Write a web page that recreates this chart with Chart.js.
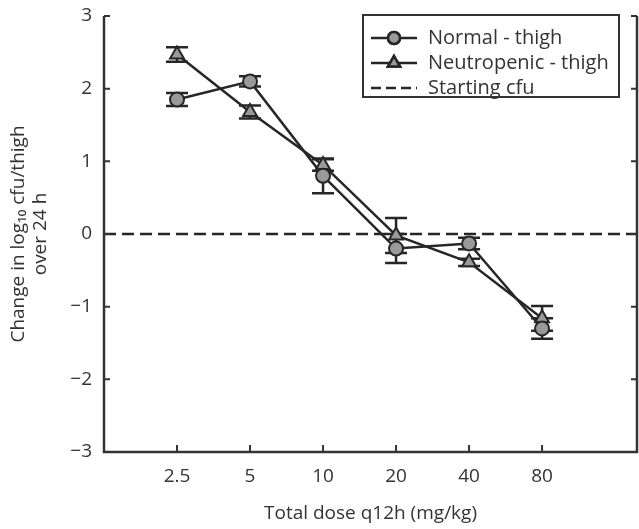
<!DOCTYPE html>
<html>
<head>
<meta charset="utf-8">
<script src="https://cdn.jsdelivr.net/npm/chart.js@4.4.1/dist/chart.umd.min.js"></script>
<style>
  html, body { margin: 0; padding: 0; background: #fff; overflow: hidden; }
  #wrap { width: 639px; height: 529px; }
</style>
</head>
<body>
<div id="wrap"><canvas id="chart"></canvas></div>
<script>
// --- data ---
const doseLabels = ['2.5', '5', '10', '20', '40', '80'];
const normalVals = [1.85, 2.10, 0.80, -0.20, -0.13, -1.30];
const normalErr  = [0.09, 0.07, 0.24, 0.20, 0.08, 0.14];
const neutroVals = [2.47, 1.68, 0.95, -0.02, -0.39, -1.16];
const neutroErr  = [0.10, 0.09, 0.08, 0.24, 0.05, 0.17];
const startCfu   = 0;
const yTicks     = [-3, -2, -1, 0, 1, 2, 3];

const INK = '#262626';
const MARK = '#9a9a9a';
const FONT = '"Open Sans", "Noto Sans", sans-serif';

function pts(vals) {
    return vals.map((v, i) => ({ x: i, y: v }));
}

// error bars, drawn under the markers
const errorBars = {
    id: 'errorBars',
    beforeDatasetsDraw(chart) {
        const { ctx, scales: { x, y } } = chart;
        const sets = [[normalVals, normalErr], [neutroVals, neutroErr]];
        ctx.save();
        ctx.strokeStyle = INK;
        ctx.lineWidth = 2.5;
        sets.forEach(([vals, errs]) => {
            vals.forEach((v, i) => {
                const px = x.getPixelForValue(i);
                const top = y.getPixelForValue(v + errs[i]);
                const bot = y.getPixelForValue(v - errs[i]);
                ctx.beginPath();
                ctx.moveTo(px, top); ctx.lineTo(px, bot);
                ctx.moveTo(px - 11, top); ctx.lineTo(px + 11, top);
                ctx.moveTo(px - 11, bot); ctx.lineTo(px + 11, bot);
                ctx.stroke();
            });
        });
        ctx.restore();
    }
};

// axis frame (left, bottom, right) with inward ticks
const frame = {
    id: 'frame',
    afterDraw(chart) {
        const { ctx, chartArea: a, scales: { x, y } } = chart;
        ctx.save();
        ctx.strokeStyle = '#333';
        ctx.lineWidth = 2.5;
        ctx.beginPath();
        ctx.moveTo(a.left, a.top); ctx.lineTo(a.left, a.bottom);
        ctx.lineTo(a.right, a.bottom); ctx.lineTo(a.right, a.top);
        ctx.stroke();
        ctx.lineWidth = 2;
        ctx.beginPath();
        yTicks.forEach(t => {
            const py = y.getPixelForValue(t);
            ctx.moveTo(a.left, py); ctx.lineTo(a.left + 6, py);
            ctx.moveTo(a.right, py); ctx.lineTo(a.right - 6, py);
        });
        doseLabels.forEach((_, i) => {
            const px = x.getPixelForValue(i);
            ctx.moveTo(px, a.bottom); ctx.lineTo(px, a.bottom - 7);
        });
        ctx.stroke();
        ctx.restore();
    }
};

// boxed legend with line + marker samples
const boxLegend = {
    id: 'boxLegend',
    afterDraw(chart) {
        const ctx = chart.ctx;
        const bx = 363, by = 15, bw = 256, bh = 82;
        const rows = [
            { text: 'Normal - thigh', style: 'circle' },
            { text: 'Neutropenic - thigh', style: 'triangle' },
            { text: 'Starting cfu', style: 'dash' }
        ];
        ctx.save();
        ctx.fillStyle = '#fff';
        ctx.fillRect(bx, by, bw, bh);
        ctx.strokeStyle = '#333';
        ctx.lineWidth = 2;
        ctx.strokeRect(bx, by, bw, bh);
        rows.forEach((r, k) => {
            const cy = by + 23 + k * 25;
            ctx.strokeStyle = INK;
            ctx.lineWidth = 2.5;
            ctx.setLineDash(r.style === 'dash' ? [10, 5] : []);
            ctx.beginPath();
            ctx.moveTo(bx + 8, cy); ctx.lineTo(bx + 54, cy);
            ctx.stroke();
            ctx.setLineDash([]);
            if (r.style !== 'dash') {
                Chart.helpers.drawPoint(ctx, {
                    pointStyle: r.style, radius: r.style === 'circle' ? 6 : 7,
                    rotation: 0, borderWidth: 2
                }, bx + 31, cy);
                ctx.fillStyle = MARK;
                ctx.fill();
                ctx.stroke();
            }
            ctx.fillStyle = '#333';
            ctx.font = '20px ' + FONT;
            ctx.textBaseline = 'middle';
            ctx.fillText(r.text, bx + 65, cy);
        });
        ctx.restore();
    }
};

new Chart(document.getElementById('chart'), {
    type: 'line',
    data: {
        datasets: [{
            label: 'Normal - thigh',
            data: pts(normalVals),
            borderColor: INK, borderWidth: 2.5,
            pointStyle: 'circle', pointRadius: 7,
            pointBackgroundColor: MARK, pointBorderColor: INK, pointBorderWidth: 2
        }, {
            label: 'Neutropenic - thigh',
            data: pts(neutroVals),
            borderColor: INK, borderWidth: 2.5,
            pointStyle: 'triangle', pointRadius: 8,
            pointBackgroundColor: MARK, pointBorderColor: INK, pointBorderWidth: 2
        }, {
            label: 'Starting cfu',
            data: [{ x: -1, y: startCfu }, { x: 6.3, y: startCfu }],
            borderColor: INK, borderWidth: 2.5, borderDash: [12, 6],
            pointRadius: 0
        }]
    },
    options: {
        responsive: true,
        maintainAspectRatio: false,
        animation: false,
        layout: { autoPadding: false, padding: { top: 16, right: 2, left: 0, bottom: 0 } },
        plugins: { legend: { display: false }, tooltip: { enabled: false } },
        scales: {
            x: {
                type: 'linear', min: -1, max: 6.3,
                grid: { display: false, drawTicks: false }, border: { display: false },
                afterBuildTicks: s => { s.ticks = doseLabels.map((_, i) => ({ value: i })); },
                afterFit: s => { s.height = 77; s.paddingLeft = 0; s.paddingRight = 0; },
                ticks: {
                    autoSkip: false, maxRotation: 0, padding: 13,
                    color: '#333', font: { family: FONT, size: 19 },
                    callback: v => doseLabels[v]
                },
                title: {
                    display: true, text: 'Total dose q12h (mg/kg)',
                    color: '#333', font: { family: FONT, size: 19 }, padding: { top: 10 }
                }
            },
            y: {
                min: -3, max: 3,
                grid: { display: false, drawTicks: false }, border: { display: false },
                afterBuildTicks: s => { s.ticks = yTicks.map(v => ({ value: v })); },
                afterFit: s => { s.width = 104; s.paddingTop = 0; s.paddingBottom = 0; },
                ticks: {
                    padding: 12, color: '#333', font: { family: FONT, size: 19 },
                    callback: v => String(v).replace('-', '\u2212')
                },
                title: {
                    display: true,
                    text: ['Change in log\u2081\u2080 cfu/thigh', 'over 24 h'],
                    color: '#333', font: { family: FONT, size: 19, lineHeight: 1.15 },
                    padding: { top: 8, bottom: 4 }
                }
            }
        }
    },
    plugins: [errorBars, frame, boxLegend]
});
</script>
</body>
</html>
